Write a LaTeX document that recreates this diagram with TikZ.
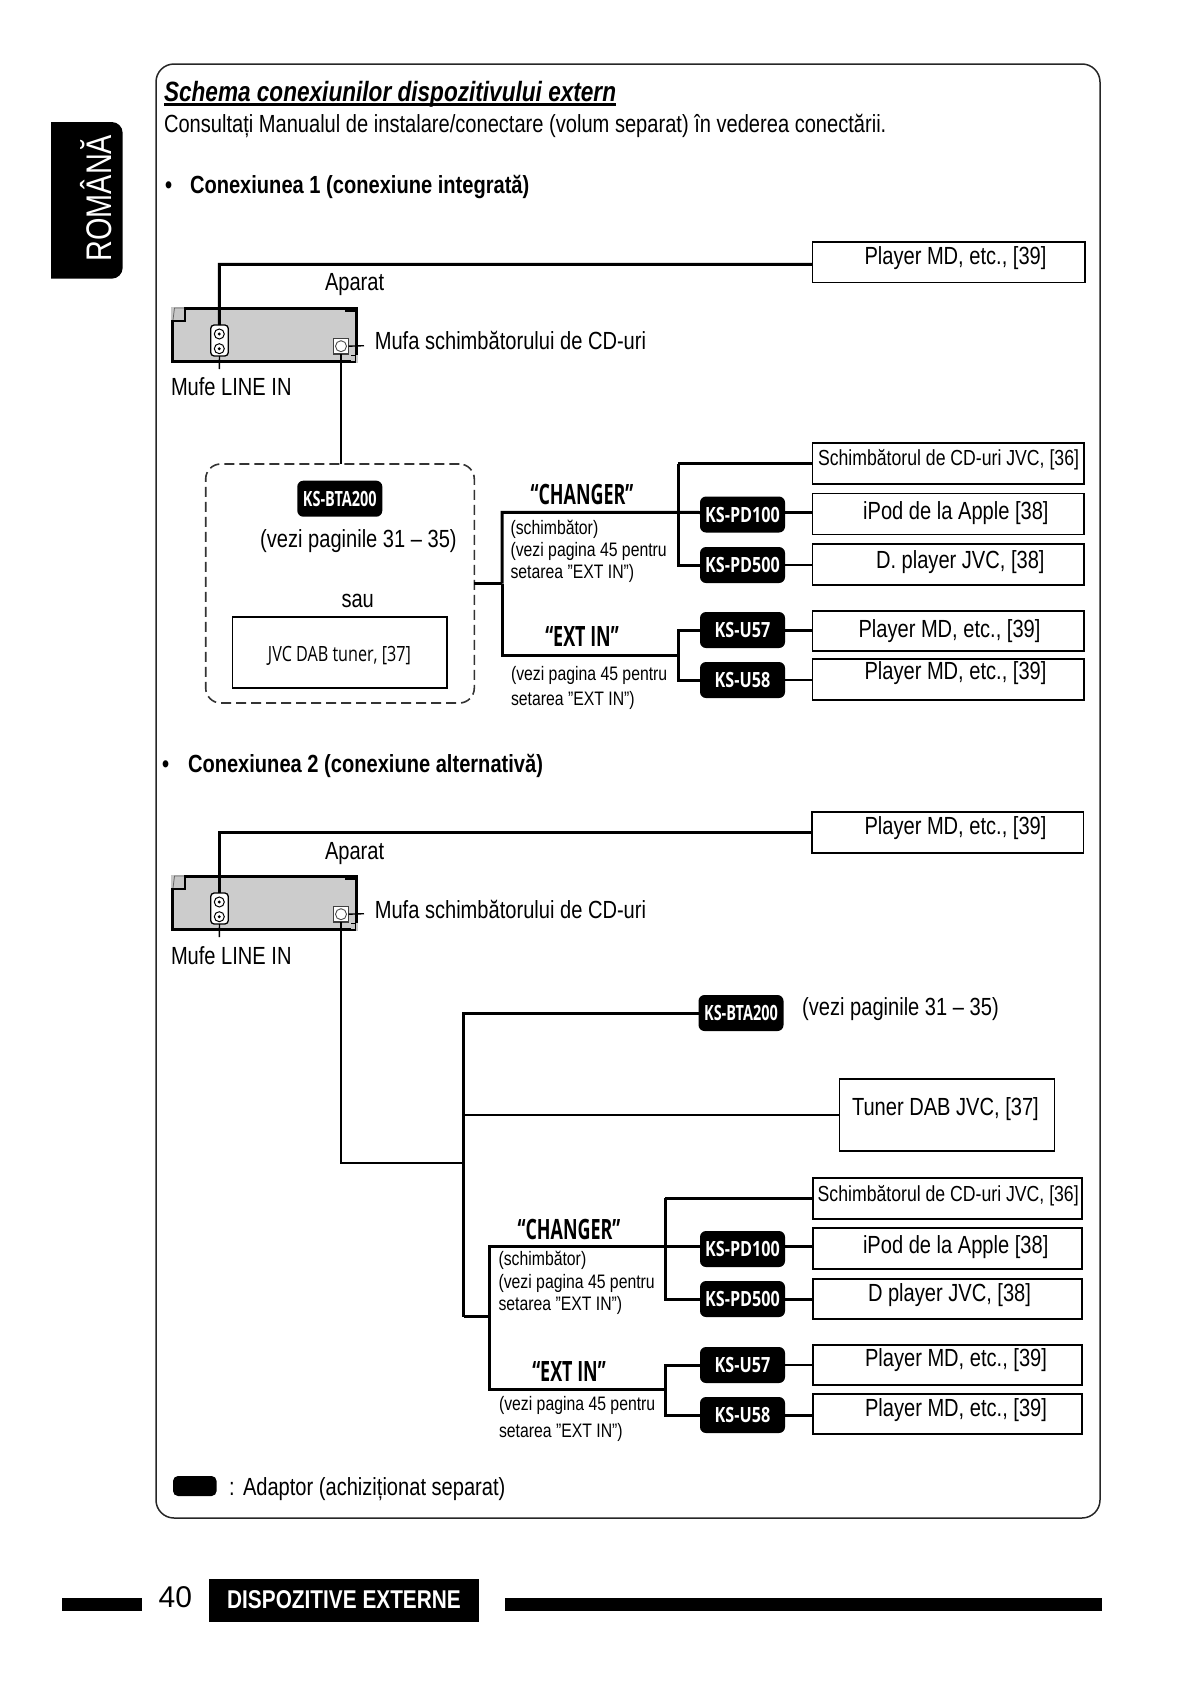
\documentclass[tikz,border=0pt]{standalone}
\usepackage{fontspec}
\setmainfont[FakeStretch=0.81]{Liberation Sans}
\newfontfamily\padfont[FakeStretch=0.77]{Open Sans}
\newfontfamily\btafont[FakeStretch=0.69]{Open Sans}
\newfontfamily\selfont[FakeStretch=0.64]{Open Sans}
\newfontfamily\fullfont{Liberation Sans}
\definecolor{devgray}{HTML}{CCCCCC}
\newcommand{\fsz}[1]{\fontsize{#1pt}{#1pt}\selectfont}
\newcommand{\rectnode}[6]{%
  \pgfmathsetmacro\rcx{(#3+#5)/2}\pgfmathsetmacro\rcy{(#4+#6)/2}%
  \pgfmathsetmacro\rcw{#5-#3}\pgfmathsetmacro\rch{#6-#4}%
  \node[#1,minimum width=\rcw pt,minimum height=\rch pt] (#2) at (\rcx,\rcy) {};}
\newsavebox{\ulbox}
\newcommand{\ultext}[1]{\sbox{\ulbox}{#1}\rlap{\rule[-4.6pt]{\wd\ulbox}{2.2pt}}\usebox{\ulbox}}
\tikzset{
  base/.style={inner sep=0pt,outer sep=0pt},
  txt/.style={base,anchor=base west,font=\fsz{24.8}},
  small/.style={base,anchor=base west,font=\fsz{19.5}},
  boxtxt/.style={base,anchor=base west,font=\fsz{21.8}},
  head/.style={base,anchor=base west,font=\fsz{24.8}\bfseries},
  sel/.style={base,anchor=base,font=\fsz{28}\selfont\bfseries},
  pill/.style={base,fill=black,rounded corners=6pt,text=white,font=\fsz{21}\padfont\bfseries,minimum width=85pt,minimum height=36pt},
  btapill/.style={pill,font=\fsz{21}\btafont\bfseries},
  devbox/.style={base,rectangle,draw=black,fill=devgray,line width=3pt},
  outbox/.style={base,rectangle,draw=black,line width=1.6pt},
  dashbox/.style={base,rectangle,draw=black!80,line width=1.6pt,dash pattern=on 10pt off 5pt,rounded corners=15pt},
  jackbox/.style={base,rectangle,draw=black,fill=white,line width=1.3pt,rounded corners=3.5pt},
  jackring/.style={base,circle,draw=black,fill=white,line width=1pt,minimum size=10pt},
  jackdot/.style={base,circle,fill=black,minimum size=3.2pt},
  sqjack/.style={base,rectangle,draw=black!75,fill=white,line width=1.3pt},
  sqring/.style={base,circle,draw=black!70,fill=white,line width=.9pt,minimum size=11pt},
  wire/.style={line width=3pt,line cap=butt,line join=miter},
  midwire/.style={line width=2.4pt,line join=miter},
  thinwire/.style={line width=1.4pt},
}
% unit drawing, section 1 coordinates, shifted for section 2
\newcommand{\unit}[3]{%
 \begin{scope}[yshift=#2]
  \rectnode{devbox}{#1dev}{172.7}{308.5}{356}{361}
  \fill[black!22] (170.5,306.5) rectangle (184,320);
  \draw[line width=.8pt,draw=black!60] (173,320)--(174.5,308)--(184,308);
  \draw[line width=2.2pt] (171.2,320.7)--(184.7,320.7)--(184.7,309);
  \fill (345,307) rectangle (357.5,312);
  \fill[black!22] (350.8,354.5) rectangle (358,363);
  \fill[white] (352,362.5) rectangle (358,364);
  \draw[line width=1.2pt] (350.5,362)--(355.8,362)--(355.8,355.5)--(350.5,355.5);
  \rectnode{jackbox}{#1jack}{210.7}{325}{228.3}{356}
  \node[jackring] (#1ra) at (219.3,334) {}; \node[jackdot] (#1da) at (219.3,334) {};
  \node[jackring] (#1rb) at (219.3,348.7) {}; \node[jackdot] (#1db) at (219.3,348.7) {};
  \rectnode{sqjack}{#1sq}{333.3}{338.3}{348.7}{354}
  \node[sqring] (#1sr) at (341,346.2) {};
  \coordinate (#1sqend) at (364,345.7);
  \coordinate (#1jackend) at (219.3,369);
  \coordinate (#1wirey) at (219.3,264.3);
  \draw[thinwire] (#1sq.east) -- (#1sqend);
  \draw[thinwire] (#1jack.south) -- (#1jackend);
  \begin{scope}[yshift=#3]
  \node[txt] (#1ap) at (325,290) {Aparat};
  \node[txt] (#1mu) at (374.8,349.5) {Mufa schimbătorului de CD-uri};
  \node[txt] (#1li) at (171,395) {Mufe LINE IN};
  \end{scope}
 \end{scope}}
\begin{document}
\begin{tikzpicture}[x=1pt,y=-1pt]
\path[use as bounding box] (0,0) rectangle (1191,1684);
% panel
\rectnode{base,rectangle,draw=black!85,line width=1.5pt,rounded corners=18pt}{panel}{156}{64}{1100}{1518}
% side tab
\fill (51,122) [rounded corners=11pt] -- (122.7,122) -- (122.7,278.7) [sharp corners] -- (51,278.7) -- cycle;
\node[base,anchor=base west,rotate=90,text=white,font=\fsz{35.6}] (lang) at (111.7,261.5) {ROMÂNĂ};
% headings
\node[head,font=\fsz{27.9}\bfseries\itshape] (title) at (164,101) {\ultext{Schema conexiunilor dispozitivului extern}};
\node[txt] (intro) at (164,132.5) {Consultați Manualul de instalare/conectare (volum separat) în vederea conectării.};
\node[head] (b1) at (165,193.4) {•};
\node[head] (h1) at (190,193.4) {Conexiunea 1 (conexiune integrată)};
\node[head] (b2) at (162,772.8) {•};
\node[head] (h2) at (188,772.8) {Conexiunea 2 (conexiune alternativă)};
% units
\unit{a}{0pt}{0pt}
\unit{b}{-568pt}{-1.2pt}
%%% SECTION 1
\rectnode{outbox}{a0}{812.5}{242}{1085}{282.5}
\node[txt] (ta0) at (864.5,264) {Player MD, etc., [39]};
\draw[wire] (ajack.north) -- (awirey) -- (awirey -| a0.west);
\rectnode{dashbox}{dash}{205.7}{464}{474.3}{703}
\node[btapill] (bta1) at (339.8,498.7) {KS-BTA200};
\node[txt] (see1) at (260.2,547.5) {(vezi paginile 31 – 35)};
\node[base,anchor=base,font=\fsz{24.8}] (sau) at (357.7,607.5) {sau};
\rectnode{outbox}{jvc}{232.5}{616.7}{447.2}{688}
\node[base,font=\fsz{21}\padfont] (tjvc) at (339.5,655.5) {JVC DAB tuner, [37]};
\draw[midwire] (asq.south) -- (asq.south |- dash.north);
\coordinate (bus1) at (502,583.5);
\coordinate (fork1) at (678,512.3);
\coordinate (fork2) at (678,655);
\draw[midwire] (dash.east) -- (bus1);
\rectnode{outbox}{a1}{812.5}{443}{1084}{484}
\rectnode{outbox}{a2}{812.5}{493.5}{1084}{534.6}
\rectnode{outbox}{a3}{812.5}{544}{1084}{585}
\rectnode{outbox}{a4}{812.5}{610.7}{1084}{651}
\rectnode{outbox}{a5}{812.5}{659}{1084}{700}
\node[boxtxt] (ta1) at (818,465) {Schimbătorul de CD-uri JVC, [36]};
\node[txt] (ta2) at (863.2,519.2) {iPod de la Apple [38]};
\node[txt] (ta3) at (876,568.3) {D. player JVC, [38]};
\node[txt] (ta4) at (858.5,637) {Player MD, etc., [39]};
\node[txt] (ta5) at (864.5,679.5) {Player MD, etc., [39]};
\node[pill] (p1) at (742.5,514.5) {KS-PD100};
\node[pill] (p2) at (742.5,565) {KS-PD500};
\node[pill] (p3) at (742.5,630) {KS-U57};
\node[pill] (p4) at (742.5,680) {KS-U58};
\draw[wire] (bus1) |- (fork1) -- ([yshift=2pt]p1.west);
\draw[wire] (fork1 |- a1.west) -- (a1.west);
\draw[wire] (fork1 |- a1.west) |- (p2.west);
\draw[wire] (bus1) |- (fork2);
\draw[wire] (p3.west) -| (fork2) |- (p4.west);
\draw[wire] ([yshift=2pt]p1.east) -- ([yshift=2pt]p1.east -| a2.west);
\draw[midwire] (p2.east) -- (p2.east -| a3.west);
\draw[wire] (p3.east) -- (p3.east -| a4.west);
\draw[midwire] (p4.east) -- (p4.east -| a5.west);
\node[sel] (c1) at (582,504) {“CHANGER”};
\node[small] (c1a) at (510.5,534) {(schimbător)};
\node[small] (c1b) at (510.5,556.7) {(vezi pagina 45 pentru};
\node[small] (c1c) at (510.5,578) {setarea ”EXT IN”)};
\node[sel] (e1) at (582,646) {“EXT IN”};
\node[small] (e1a) at (511,680) {(vezi pagina 45 pentru};
\node[small] (e1b) at (511,705) {setarea ”EXT IN”)};
%%% SECTION 2
\rectnode{outbox}{b0}{812}{812}{1083.5}{853}
\node[txt] (tb0) at (864.5,834.5) {Player MD, etc., [39]};
\draw[wire] (bjack.north) |- (b0.west);
\coordinate (tr) at (463.5,1163);
\coordinate (tt) at (463.5,1013);
\coordinate (tb) at (463.5,1316.7);
\coordinate (bus2) at (489,1316.7);
\coordinate (fork3) at (665,1246.7);
\coordinate (fork4) at (665,1389);
\draw[midwire] (bsq.south) |- (tr);
\node[btapill] (bta2) at (741,1013) {KS-BTA200};
\node[txt] (see2) at (802.2,1015) {(vezi paginile 31 – 35)};
\draw[wire] (tb) -- (tt) -- (bta2.west);
\draw[wire] (tb) -- (bus2);
\rectnode{outbox}{tun}{839.5}{1079}{1054.5}{1151}
\node[txt] (ttun) at (852,1115) {Tuner DAB JVC, [37]};
\draw[midwire] (tt |- tun.west) -- (tun.west);
\rectnode{outbox}{c1box}{813}{1177.7}{1081.7}{1218.7}
\rectnode{outbox}{c2box}{813}{1228}{1081.7}{1268.7}
\rectnode{outbox}{c3box}{813}{1279}{1081.7}{1319}
\rectnode{outbox}{c4box}{813}{1345}{1081.7}{1385}
\rectnode{outbox}{c5box}{813}{1394}{1081.7}{1434}
\node[boxtxt] (tc1) at (817.7,1201.5) {Schimbătorul de CD-uri JVC, [36]};
\node[txt] (tc2) at (863,1253.5) {iPod de la Apple [38]};
\node[txt] (tc3) at (868,1301) {D player JVC, [38]};
\node[txt] (tc4) at (865,1366) {Player MD, etc., [39]};
\node[txt] (tc5) at (865,1416) {Player MD, etc., [39]};
\node[pill] (q1) at (742.5,1249) {KS-PD100};
\node[pill] (q2) at (742.5,1299) {KS-PD500};
\node[pill] (q3) at (742.5,1365) {KS-U57};
\node[pill] (q4) at (742.5,1415) {KS-U58};
\draw[wire] (bus2) |- (fork3) -- ([yshift=2.3pt]q1.west);
\draw[wire] (fork3 |- c1box.west) -- (c1box.west);
\draw[wire] (fork3 |- c1box.west) |- (q2.west);
\draw[wire] (bus2) |- (fork4);
\draw[wire] (q3.west) -| (fork4) |- (q4.west);
\draw[wire] ([yshift=2.3pt]q1.east) -- ([yshift=2.3pt]q1.east -| c2box.west);
\draw[wire] (q2.east) -- (q2.east -| c3box.west);
\draw[midwire] (q3.east) -- (q3.east -| c4box.west);
\draw[wire] (q4.east) -- (q4.east -| c5box.west);
\node[sel] (c2) at (569,1239) {“CHANGER”};
\node[small] (c2a) at (498.5,1265) {(schimbător)};
\node[small] (c2b) at (498.5,1288.3) {(vezi pagina 45 pentru};
\node[small] (c2c) at (498.5,1310) {setarea ”EXT IN”)};
\node[sel] (e2) at (569,1381.3) {“EXT IN”};
\node[small] (e2a) at (499,1410.7) {(vezi pagina 45 pentru};
\node[small] (e2b) at (499,1437) {setarea ”EXT IN”)};
%%% legend
\rectnode{base,rectangle,fill=black,rounded corners=5pt}{leg}{173}{1476}{216.6}{1496}
\node[txt] (legc) at (229,1495.8) {:};
\node[txt] (legt) at (243,1495.8) {Adaptor (achiziționat separat)};
%%% footer
\fill (62,1598) rectangle (142,1611);
\fill (505,1598) rectangle (1101.5,1611);
\node[base,anchor=base west,font=\fsz{30}\fullfont] (pg) at (158.6,1607.7) {40};
\rectnode{base,rectangle,fill=black}{ftb}{209}{1579}{478.7}{1622}
\node[base,anchor=base,text=white,font=\fsz{25.7}\bfseries] (ftt) at (344,1608.5) {DISPOZITIVE EXTERNE};
\end{tikzpicture}
\end{document}
